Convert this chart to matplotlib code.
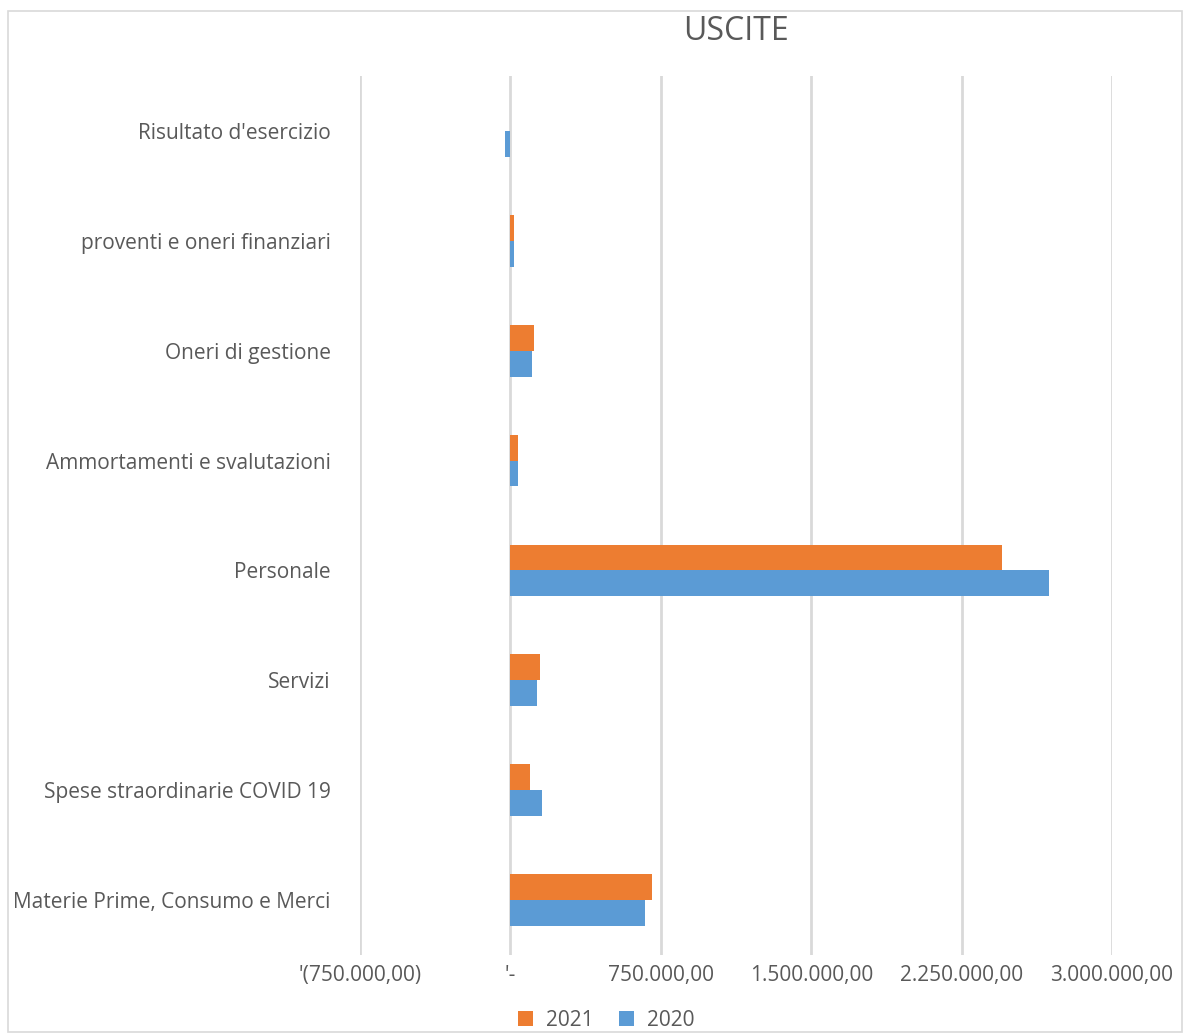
import matplotlib.pyplot as plt
from matplotlib.patches import Rectangle
import numpy as np

plt.rcParams['font.family'] = ['Open Sans', 'DejaVu Sans']

categories = ["Materie Prime, Consumo e Merci", "Spese straordinarie COVID 19", "Servizi",
              "Personale", "Ammortamenti e svalutazioni", "Oneri di gestione",
              "proventi e oneri finanziari", "Risultato d'esercizio"]
values_2021 = [707000, 100000, 146000, 2449000, 40000, 120000, 18000, 0]
values_2020 = [670000, 160000, 133000, 2688000, 40000, 106000, 16000, -28000]
tick_values = [-750000, 0, 750000, 1500000, 2250000, 3000000]
tick_labels = ["'(750.000,00)", "'-", "750.000,00", "1.500.000,00", "2.250.000,00", "3.000.000,00"]

orange = '#ED7D31'
blue = '#5B9BD5'
text_col = '#595959'

fig = plt.figure(figsize=(11.88, 10.33), dpi=100)
ax = fig.add_axes([360 / 1188, 1 - 955 / 1033, (1112 - 360) / 1188, (955 - 76) / 1033])

y = np.arange(len(categories))
h = 0.236
ax.barh(y + h / 2, values_2021, height=h, color=orange, label='2021', zorder=3)
ax.barh(y - h / 2, values_2020, height=h, color=blue, label='2020', zorder=3)

ax.set_xlim(-750000, 3000000)
ax.set_ylim(-0.5, len(categories) - 0.5)
ax.set_xticks(tick_values)
ax.set_xticklabels(tick_labels, fontsize=15)
ax.set_yticks(y)
ax.set_yticklabels(categories, fontsize=15)
ax.grid(axis='x', color='#d9d9d9', linewidth=2, zorder=0)
for s in ax.spines.values():
    s.set_visible(False)
ax.tick_params(axis='both', length=0, labelcolor=text_col)
ax.tick_params(axis='x', pad=7)
ax.tick_params(axis='y', pad=21)

fig.text(736 / 1188, 1 - 31 / 1033, 'USCITE', ha='center', va='center', fontsize=23, color=text_col)

fig.legend(loc='center', bbox_to_anchor=(606 / 1188, 1 - 1020 / 1033), ncol=2, frameon=False,
           fontsize=15, labelcolor=text_col, handlelength=0.75, handleheight=0.75,
           columnspacing=1.2, handletextpad=0.6)

fig.patches.append(Rectangle((8 / 1188, 1 / 1033), 1174 / 1188, 1021 / 1033, transform=fig.transFigure,
                             fill=False, edgecolor='#d9d9d9', linewidth=1.2))

fig.savefig('out.png', dpi=100)
